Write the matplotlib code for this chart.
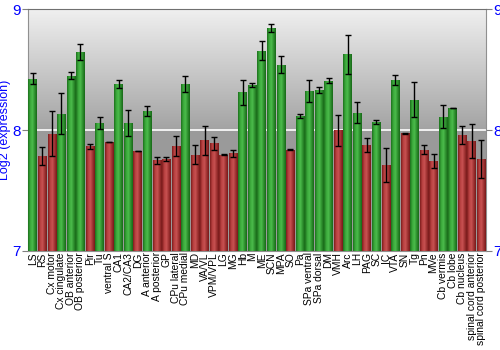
import matplotlib
matplotlib.use("Agg")
import matplotlib.pyplot as plt
import numpy as np
from matplotlib.colors import LinearSegmentedColormap

regions = [
    "LS", "RS", "Cx motor", "Cx cingulate", "OB anterior", "OB posterior", "Pir", "Tu",
    "ventral S", "CA1", "CA2/CA3", "DG", "A anterior", "A posterior", "GP", "CPu lateral",
    "CPu medial", "MD", "VA/VL", "VPM/VPL", "LG", "MG", "Hb", "M",
    "ME", "SCN", "MPA", "SO", "Pa", "SPa ventral", "SPa dorsal", "DM",
    "VMH", "Arc", "LH", "PAG", "SC", "IC", "VTA", "SN",
    "Tg", "Pn", "MVe", "Cb vermis", "Cb lobe", "Cb nucleus",
    "spinal cord anterior", "spinal cord posterior",
]
expression = [
    8.423, 7.785, 7.970, 8.133, 8.448, 8.646, 7.867, 8.058,
    7.901, 8.381, 8.058, 7.826, 8.157, 7.749, 7.760, 7.870,
    8.381, 7.796, 7.917, 7.890, 7.796, 7.807, 8.312, 8.370,
    8.657, 8.843, 8.541, 7.837, 8.116, 8.320, 8.331, 8.409,
    7.998, 8.627, 8.144, 7.873, 8.066, 7.710, 8.412, 7.972,
    8.251, 7.837, 7.743, 8.108, 8.182, 7.961, 7.909, 7.760,
]
error = [
    0.046, 0.077, 0.185, 0.170, 0.030, 0.064, 0.020, 0.048,
    0.003, 0.035, 0.105, 0.003, 0.045, 0.032, 0.017, 0.083,
    0.066, 0.080, 0.120, 0.055, 0.005, 0.029, 0.105, 0.018,
    0.079, 0.033, 0.068, 0.003, 0.015, 0.090, 0.028, 0.023,
    0.128, 0.160, 0.085, 0.058, 0.015, 0.138, 0.040, 0.007,
    0.145, 0.039, 0.061, 0.095, 0.003, 0.076, 0.140, 0.160,
]
baseline = 8.0

plt.rcParams["font.family"] = ["Liberation Sans", "DejaVu Sans"]

fig = plt.figure(figsize=(5, 3.5), dpi=100)
ax = fig.add_axes([0.056, 0.283, 0.916, 0.691])

n = len(regions)
x = np.arange(n)
ax.set_xlim(-0.5, n - 0.5)
ax.set_ylim(7, 9)

# background: light-to-dark gradient above the baseline, flat grey below
bg_top = np.linspace(0.94, 0.64, 200).reshape(-1, 1)
ax.imshow(np.dstack([bg_top] * 3), extent=(-0.5, n - 0.5, baseline, 9),
          aspect="auto", origin="upper", zorder=0)
ax.axhspan(7, baseline, color="#9a9a9a", zorder=0)
ax.axhline(baseline, color="white", lw=1.2, zorder=1)

green = LinearSegmentedColormap.from_list("g", ["#1c701c", "#3aa83a", "#4cbc4c", "#2e902e", "#186818"])
red = LinearSegmentedColormap.from_list("r", ["#7e1c1c", "#b84040", "#c85252", "#a03232", "#761a1a"])
grad = np.linspace(0, 1, 64).reshape(1, -1)

bars = ax.bar(x, expression, width=0.9, bottom=0, zorder=2, linewidth=0)
for b, v in zip(bars, expression):
    cmap = green if v > baseline else red
    b.set_facecolor(cmap(0.5))
    x0, y0 = b.get_x(), 7
    im = ax.imshow(grad, cmap=cmap, extent=(x0, x0 + b.get_width(), y0, v),
                   aspect="auto", zorder=3)
    im.set_clip_path(b)

ax.errorbar(x, expression, yerr=error, fmt="none", ecolor="black",
            elinewidth=1, capsize=2, capthick=1, zorder=4)

ax.set_xticks(x)
ax.set_xticklabels(regions, rotation=90, fontsize=7.4)
ax.tick_params(axis="x", length=0, pad=1)
ax.set_yticks([7, 8, 9])
ax.tick_params(axis="y", colors="#808080", labelcolor="blue", labelsize=11,
               length=4, right=True, labelright=True, pad=1)
ax.set_ylabel("Log2 (expression)", color="blue", fontsize=9, labelpad=1)

for side in ["left", "right", "bottom"]:
    ax.spines[side].set_color("#909090")
ax.spines["top"].set_color("#707070")

fig.savefig("out.png", dpi=100)
